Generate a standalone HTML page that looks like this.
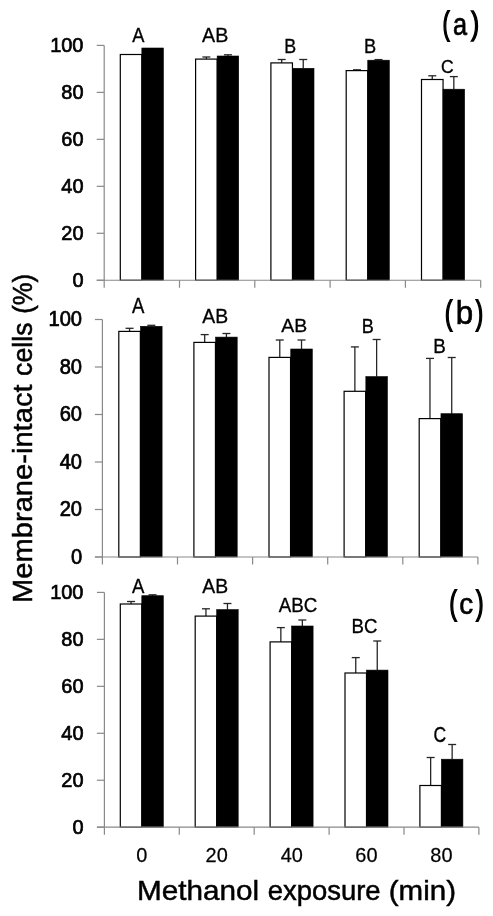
<!DOCTYPE html>
<html><head><meta charset="utf-8"><style>
html,body{margin:0;padding:0;background:#fff;width:493px;height:916px;overflow:hidden}
svg{display:block;filter:grayscale(1)}
text{font-family:"Liberation Sans",sans-serif;fill:#000;stroke:#000}
</style></head><body>
<svg width="493" height="916" viewBox="0 0 493 916">
<rect width="493" height="916" fill="#fff"/>
<rect x="120.30" y="54.50" width="21.55" height="225.75" fill="#fff" stroke="#000" stroke-width="1.2"/>
<rect x="141.85" y="48.00" width="21.55" height="232.25" fill="#000" stroke="#000" stroke-width="0.6"/>
<line x1="206.38" y1="59.10" x2="206.38" y2="57.00" stroke="#262626" stroke-width="1.3"/>
<line x1="202.38" y1="57.00" x2="210.38" y2="57.00" stroke="#262626" stroke-width="1.3"/>
<line x1="227.93" y1="56.00" x2="227.93" y2="54.80" stroke="#262626" stroke-width="1.3"/>
<line x1="223.93" y1="54.80" x2="231.93" y2="54.80" stroke="#262626" stroke-width="1.3"/>
<rect x="195.60" y="59.10" width="21.55" height="221.15" fill="#fff" stroke="#000" stroke-width="1.2"/>
<rect x="217.15" y="56.00" width="21.55" height="224.25" fill="#000" stroke="#000" stroke-width="0.6"/>
<line x1="281.68" y1="62.90" x2="281.68" y2="59.50" stroke="#262626" stroke-width="1.3"/>
<line x1="277.68" y1="59.50" x2="285.68" y2="59.50" stroke="#262626" stroke-width="1.3"/>
<line x1="303.23" y1="68.30" x2="303.23" y2="59.50" stroke="#262626" stroke-width="1.3"/>
<line x1="299.23" y1="59.50" x2="307.23" y2="59.50" stroke="#262626" stroke-width="1.3"/>
<rect x="270.90" y="62.90" width="21.55" height="217.35" fill="#fff" stroke="#000" stroke-width="1.2"/>
<rect x="292.45" y="68.30" width="21.55" height="211.95" fill="#000" stroke="#000" stroke-width="0.6"/>
<line x1="356.97" y1="70.60" x2="356.97" y2="69.80" stroke="#262626" stroke-width="1.3"/>
<line x1="352.97" y1="69.80" x2="360.97" y2="69.80" stroke="#262626" stroke-width="1.3"/>
<line x1="378.52" y1="60.20" x2="378.52" y2="59.60" stroke="#262626" stroke-width="1.3"/>
<line x1="374.52" y1="59.60" x2="382.52" y2="59.60" stroke="#262626" stroke-width="1.3"/>
<rect x="346.20" y="70.60" width="21.55" height="209.65" fill="#fff" stroke="#000" stroke-width="1.2"/>
<rect x="367.75" y="60.20" width="21.55" height="220.05" fill="#000" stroke="#000" stroke-width="0.6"/>
<line x1="432.27" y1="79.50" x2="432.27" y2="75.80" stroke="#262626" stroke-width="1.3"/>
<line x1="428.27" y1="75.80" x2="436.27" y2="75.80" stroke="#262626" stroke-width="1.3"/>
<line x1="453.82" y1="89.20" x2="453.82" y2="76.60" stroke="#262626" stroke-width="1.3"/>
<line x1="449.82" y1="76.60" x2="457.82" y2="76.60" stroke="#262626" stroke-width="1.3"/>
<rect x="421.50" y="79.50" width="21.55" height="200.75" fill="#fff" stroke="#000" stroke-width="1.2"/>
<rect x="443.05" y="89.20" width="21.55" height="191.05" fill="#000" stroke="#000" stroke-width="0.6"/>
<line x1="104.20" y1="45.40" x2="104.20" y2="280.25" stroke="#898989" stroke-width="1.2"/>
<line x1="96.70" y1="280.25" x2="480.70" y2="280.25" stroke="#898989" stroke-width="1.2"/>
<line x1="96.70" y1="280.25" x2="104.20" y2="280.25" stroke="#898989" stroke-width="1.2"/>
<line x1="104.20" y1="280.25" x2="104.20" y2="287.75" stroke="#898989" stroke-width="1.2"/>
<text transform="translate(72.38,286.78) scale(0.9500,1)" font-size="21.00" stroke-width="0.71">0</text>
<line x1="96.70" y1="233.28" x2="104.20" y2="233.28" stroke="#898989" stroke-width="1.2"/>
<line x1="179.50" y1="280.25" x2="179.50" y2="287.75" stroke="#898989" stroke-width="1.2"/>
<text transform="translate(61.29,239.81) scale(0.9500,1)" font-size="21.00" stroke-width="0.71">20</text>
<line x1="96.70" y1="186.31" x2="104.20" y2="186.31" stroke="#898989" stroke-width="1.2"/>
<line x1="254.80" y1="280.25" x2="254.80" y2="287.75" stroke="#898989" stroke-width="1.2"/>
<text transform="translate(61.29,192.84) scale(0.9500,1)" font-size="21.00" stroke-width="0.71">40</text>
<line x1="96.70" y1="139.34" x2="104.20" y2="139.34" stroke="#898989" stroke-width="1.2"/>
<line x1="330.10" y1="280.25" x2="330.10" y2="287.75" stroke="#898989" stroke-width="1.2"/>
<text transform="translate(61.29,145.87) scale(0.9500,1)" font-size="21.00" stroke-width="0.71">60</text>
<line x1="96.70" y1="92.37" x2="104.20" y2="92.37" stroke="#898989" stroke-width="1.2"/>
<line x1="405.40" y1="280.25" x2="405.40" y2="287.75" stroke="#898989" stroke-width="1.2"/>
<text transform="translate(61.29,98.90) scale(0.9500,1)" font-size="21.00" stroke-width="0.71">80</text>
<line x1="96.70" y1="45.40" x2="104.20" y2="45.40" stroke="#898989" stroke-width="1.2"/>
<line x1="480.70" y1="280.25" x2="480.70" y2="287.75" stroke="#898989" stroke-width="1.2"/>
<text transform="translate(50.19,51.93) scale(0.9500,1)" font-size="21.00" stroke-width="0.71">100</text>
<text transform="translate(132.31,41.95) scale(0.8658,1)" font-size="21.08" stroke-width="0.35">A</text>
<text transform="translate(202.11,41.95) scale(0.9781,1)" font-size="20.06" stroke-width="0.31">AB</text>
<text transform="translate(284.19,53.05) scale(0.8648,1)" font-size="20.64" stroke-width="0.35">B</text>
<text transform="translate(363.95,53.05) scale(0.8830,1)" font-size="20.64" stroke-width="0.34">B</text>
<text transform="translate(441.06,72.67) scale(0.9771,1)" font-size="17.94" stroke-width="0.31">C</text>
<text transform="translate(442.71,33.72) scale(0.6334,1)" font-size="31.56" stroke-width="1.89">(</text>
<text transform="translate(452.97,34.95) scale(0.8108,1)" font-size="31.21" stroke-width="0.74">a</text>
<text transform="translate(471.21,33.72) scale(0.7410,1)" font-size="31.56" stroke-width="1.62">)</text>
<line x1="129.58" y1="331.40" x2="129.58" y2="328.30" stroke="#262626" stroke-width="1.3"/>
<line x1="125.58" y1="328.30" x2="133.58" y2="328.30" stroke="#262626" stroke-width="1.3"/>
<line x1="151.32" y1="326.30" x2="151.32" y2="325.30" stroke="#262626" stroke-width="1.3"/>
<line x1="147.32" y1="325.30" x2="155.32" y2="325.30" stroke="#262626" stroke-width="1.3"/>
<rect x="118.80" y="331.40" width="21.55" height="225.60" fill="#fff" stroke="#000" stroke-width="1.2"/>
<rect x="140.55" y="326.30" width="21.55" height="230.70" fill="#000" stroke="#000" stroke-width="0.6"/>
<line x1="204.68" y1="342.40" x2="204.68" y2="334.60" stroke="#262626" stroke-width="1.3"/>
<line x1="200.68" y1="334.60" x2="208.68" y2="334.60" stroke="#262626" stroke-width="1.3"/>
<line x1="226.43" y1="337.10" x2="226.43" y2="333.50" stroke="#262626" stroke-width="1.3"/>
<line x1="222.43" y1="333.50" x2="230.43" y2="333.50" stroke="#262626" stroke-width="1.3"/>
<rect x="193.90" y="342.40" width="21.55" height="214.60" fill="#fff" stroke="#000" stroke-width="1.2"/>
<rect x="215.65" y="337.10" width="21.55" height="219.90" fill="#000" stroke="#000" stroke-width="0.6"/>
<line x1="279.77" y1="357.40" x2="279.77" y2="340.00" stroke="#262626" stroke-width="1.3"/>
<line x1="275.77" y1="340.00" x2="283.77" y2="340.00" stroke="#262626" stroke-width="1.3"/>
<line x1="301.52" y1="349.00" x2="301.52" y2="340.00" stroke="#262626" stroke-width="1.3"/>
<line x1="297.52" y1="340.00" x2="305.52" y2="340.00" stroke="#262626" stroke-width="1.3"/>
<rect x="269.00" y="357.40" width="21.55" height="199.60" fill="#fff" stroke="#000" stroke-width="1.2"/>
<rect x="290.75" y="349.00" width="21.55" height="208.00" fill="#000" stroke="#000" stroke-width="0.6"/>
<line x1="354.87" y1="391.30" x2="354.87" y2="346.90" stroke="#262626" stroke-width="1.3"/>
<line x1="350.87" y1="346.90" x2="358.87" y2="346.90" stroke="#262626" stroke-width="1.3"/>
<line x1="376.62" y1="376.60" x2="376.62" y2="339.50" stroke="#262626" stroke-width="1.3"/>
<line x1="372.62" y1="339.50" x2="380.62" y2="339.50" stroke="#262626" stroke-width="1.3"/>
<rect x="344.10" y="391.30" width="21.55" height="165.70" fill="#fff" stroke="#000" stroke-width="1.2"/>
<rect x="365.85" y="376.60" width="21.55" height="180.40" fill="#000" stroke="#000" stroke-width="0.6"/>
<line x1="429.97" y1="418.60" x2="429.97" y2="358.40" stroke="#262626" stroke-width="1.3"/>
<line x1="425.97" y1="358.40" x2="433.97" y2="358.40" stroke="#262626" stroke-width="1.3"/>
<line x1="451.72" y1="413.70" x2="451.72" y2="357.50" stroke="#262626" stroke-width="1.3"/>
<line x1="447.72" y1="357.50" x2="455.72" y2="357.50" stroke="#262626" stroke-width="1.3"/>
<rect x="419.20" y="418.60" width="21.55" height="138.40" fill="#fff" stroke="#000" stroke-width="1.2"/>
<rect x="440.95" y="413.70" width="21.55" height="143.30" fill="#000" stroke="#000" stroke-width="0.6"/>
<line x1="102.40" y1="319.50" x2="102.40" y2="557.00" stroke="#898989" stroke-width="1.2"/>
<line x1="94.90" y1="557.00" x2="477.90" y2="557.00" stroke="#898989" stroke-width="1.2"/>
<line x1="94.90" y1="557.00" x2="102.40" y2="557.00" stroke="#898989" stroke-width="1.2"/>
<line x1="102.40" y1="557.00" x2="102.40" y2="564.50" stroke="#898989" stroke-width="1.2"/>
<text transform="translate(70.89,563.60) scale(0.9500,1)" font-size="21.20" stroke-width="0.72">0</text>
<line x1="94.90" y1="509.50" x2="102.40" y2="509.50" stroke="#898989" stroke-width="1.2"/>
<line x1="177.50" y1="557.00" x2="177.50" y2="564.50" stroke="#898989" stroke-width="1.2"/>
<text transform="translate(59.68,516.10) scale(0.9500,1)" font-size="21.20" stroke-width="0.72">20</text>
<line x1="94.90" y1="462.00" x2="102.40" y2="462.00" stroke="#898989" stroke-width="1.2"/>
<line x1="252.60" y1="557.00" x2="252.60" y2="564.50" stroke="#898989" stroke-width="1.2"/>
<text transform="translate(59.68,468.60) scale(0.9500,1)" font-size="21.20" stroke-width="0.72">40</text>
<line x1="94.90" y1="414.50" x2="102.40" y2="414.50" stroke="#898989" stroke-width="1.2"/>
<line x1="327.70" y1="557.00" x2="327.70" y2="564.50" stroke="#898989" stroke-width="1.2"/>
<text transform="translate(59.68,421.10) scale(0.9500,1)" font-size="21.20" stroke-width="0.72">60</text>
<line x1="94.90" y1="367.00" x2="102.40" y2="367.00" stroke="#898989" stroke-width="1.2"/>
<line x1="402.80" y1="557.00" x2="402.80" y2="564.50" stroke="#898989" stroke-width="1.2"/>
<text transform="translate(59.68,373.60) scale(0.9500,1)" font-size="21.20" stroke-width="0.72">80</text>
<line x1="94.90" y1="319.50" x2="102.40" y2="319.50" stroke="#898989" stroke-width="1.2"/>
<line x1="477.90" y1="557.00" x2="477.90" y2="564.50" stroke="#898989" stroke-width="1.2"/>
<text transform="translate(48.48,326.10) scale(0.9500,1)" font-size="21.20" stroke-width="0.72">100</text>
<text transform="translate(132.11,313.15) scale(0.8682,1)" font-size="21.37" stroke-width="0.35">A</text>
<text transform="translate(202.21,322.95) scale(0.9595,1)" font-size="20.20" stroke-width="0.31">AB</text>
<text transform="translate(281.31,332.35) scale(1.0222,1)" font-size="19.04" stroke-width="0.29">AB</text>
<text transform="translate(361.67,333.15) scale(0.8558,1)" font-size="21.08" stroke-width="0.35">B</text>
<text transform="translate(433.31,353.05) scale(0.9505,1)" font-size="19.77" stroke-width="0.32">B</text>
<text transform="translate(445.12,323.92) scale(0.6610,1)" font-size="32.52" stroke-width="1.82">(</text>
<text transform="translate(455.63,324.43) scale(0.9634,1)" font-size="32.54" stroke-width="0.62">b</text>
<text transform="translate(476.03,323.92) scale(0.6494,1)" font-size="32.52" stroke-width="1.85">)</text>
<line x1="131.05" y1="604.00" x2="131.05" y2="601.50" stroke="#262626" stroke-width="1.3"/>
<line x1="127.05" y1="601.50" x2="135.05" y2="601.50" stroke="#262626" stroke-width="1.3"/>
<line x1="152.55" y1="595.70" x2="152.55" y2="594.80" stroke="#262626" stroke-width="1.3"/>
<line x1="148.55" y1="594.80" x2="156.55" y2="594.80" stroke="#262626" stroke-width="1.3"/>
<rect x="120.30" y="604.00" width="21.50" height="223.20" fill="#fff" stroke="#000" stroke-width="1.2"/>
<rect x="141.80" y="595.70" width="21.50" height="231.50" fill="#000" stroke="#000" stroke-width="0.6"/>
<line x1="205.95" y1="616.10" x2="205.95" y2="608.80" stroke="#262626" stroke-width="1.3"/>
<line x1="201.95" y1="608.80" x2="209.95" y2="608.80" stroke="#262626" stroke-width="1.3"/>
<line x1="227.45" y1="609.60" x2="227.45" y2="603.50" stroke="#262626" stroke-width="1.3"/>
<line x1="223.45" y1="603.50" x2="231.45" y2="603.50" stroke="#262626" stroke-width="1.3"/>
<rect x="195.20" y="616.10" width="21.50" height="211.10" fill="#fff" stroke="#000" stroke-width="1.2"/>
<rect x="216.70" y="609.60" width="21.50" height="217.60" fill="#000" stroke="#000" stroke-width="0.6"/>
<line x1="280.85" y1="641.90" x2="280.85" y2="627.60" stroke="#262626" stroke-width="1.3"/>
<line x1="276.85" y1="627.60" x2="284.85" y2="627.60" stroke="#262626" stroke-width="1.3"/>
<line x1="302.35" y1="626.00" x2="302.35" y2="620.00" stroke="#262626" stroke-width="1.3"/>
<line x1="298.35" y1="620.00" x2="306.35" y2="620.00" stroke="#262626" stroke-width="1.3"/>
<rect x="270.10" y="641.90" width="21.50" height="185.30" fill="#fff" stroke="#000" stroke-width="1.2"/>
<rect x="291.60" y="626.00" width="21.50" height="201.20" fill="#000" stroke="#000" stroke-width="0.6"/>
<line x1="355.75" y1="673.00" x2="355.75" y2="657.60" stroke="#262626" stroke-width="1.3"/>
<line x1="351.75" y1="657.60" x2="359.75" y2="657.60" stroke="#262626" stroke-width="1.3"/>
<line x1="377.25" y1="670.10" x2="377.25" y2="641.00" stroke="#262626" stroke-width="1.3"/>
<line x1="373.25" y1="641.00" x2="381.25" y2="641.00" stroke="#262626" stroke-width="1.3"/>
<rect x="345.00" y="673.00" width="21.50" height="154.20" fill="#fff" stroke="#000" stroke-width="1.2"/>
<rect x="366.50" y="670.10" width="21.50" height="157.10" fill="#000" stroke="#000" stroke-width="0.6"/>
<line x1="430.65" y1="785.50" x2="430.65" y2="757.50" stroke="#262626" stroke-width="1.3"/>
<line x1="426.65" y1="757.50" x2="434.65" y2="757.50" stroke="#262626" stroke-width="1.3"/>
<line x1="452.15" y1="759.20" x2="452.15" y2="744.50" stroke="#262626" stroke-width="1.3"/>
<line x1="448.15" y1="744.50" x2="456.15" y2="744.50" stroke="#262626" stroke-width="1.3"/>
<rect x="419.90" y="785.50" width="21.50" height="41.70" fill="#fff" stroke="#000" stroke-width="1.2"/>
<rect x="441.40" y="759.20" width="21.50" height="68.00" fill="#000" stroke="#000" stroke-width="0.6"/>
<line x1="104.40" y1="592.40" x2="104.40" y2="827.20" stroke="#898989" stroke-width="1.2"/>
<line x1="96.90" y1="827.20" x2="478.90" y2="827.20" stroke="#898989" stroke-width="1.2"/>
<line x1="96.90" y1="827.20" x2="104.40" y2="827.20" stroke="#898989" stroke-width="1.2"/>
<line x1="104.40" y1="827.20" x2="104.40" y2="834.70" stroke="#898989" stroke-width="1.2"/>
<text transform="translate(72.38,833.73) scale(0.9500,1)" font-size="21.00" stroke-width="0.71">0</text>
<line x1="96.90" y1="780.24" x2="104.40" y2="780.24" stroke="#898989" stroke-width="1.2"/>
<line x1="179.30" y1="827.20" x2="179.30" y2="834.70" stroke="#898989" stroke-width="1.2"/>
<text transform="translate(61.29,786.77) scale(0.9500,1)" font-size="21.00" stroke-width="0.71">20</text>
<line x1="96.90" y1="733.28" x2="104.40" y2="733.28" stroke="#898989" stroke-width="1.2"/>
<line x1="254.20" y1="827.20" x2="254.20" y2="834.70" stroke="#898989" stroke-width="1.2"/>
<text transform="translate(61.29,739.81) scale(0.9500,1)" font-size="21.00" stroke-width="0.71">40</text>
<line x1="96.90" y1="686.32" x2="104.40" y2="686.32" stroke="#898989" stroke-width="1.2"/>
<line x1="329.10" y1="827.20" x2="329.10" y2="834.70" stroke="#898989" stroke-width="1.2"/>
<text transform="translate(61.29,692.85) scale(0.9500,1)" font-size="21.00" stroke-width="0.71">60</text>
<line x1="96.90" y1="639.36" x2="104.40" y2="639.36" stroke="#898989" stroke-width="1.2"/>
<line x1="404.00" y1="827.20" x2="404.00" y2="834.70" stroke="#898989" stroke-width="1.2"/>
<text transform="translate(61.29,645.89) scale(0.9500,1)" font-size="21.00" stroke-width="0.71">80</text>
<line x1="96.90" y1="592.40" x2="104.40" y2="592.40" stroke="#898989" stroke-width="1.2"/>
<line x1="478.90" y1="827.20" x2="478.90" y2="834.70" stroke="#898989" stroke-width="1.2"/>
<text transform="translate(50.19,598.93) scale(0.9500,1)" font-size="21.00" stroke-width="0.71">100</text>
<text transform="translate(132.11,592.55) scale(0.8801,1)" font-size="21.08" stroke-width="0.34">A</text>
<text transform="translate(202.21,593.05) scale(0.9595,1)" font-size="20.20" stroke-width="0.31">AB</text>
<text transform="translate(278.81,612.16) scale(0.9550,1)" font-size="19.63" stroke-width="0.31">ABC</text>
<text transform="translate(351.52,632.75) scale(0.8957,1)" font-size="20.76" stroke-width="0.33">BC</text>
<text transform="translate(433.46,742.44) scale(0.8218,1)" font-size="21.33" stroke-width="0.37">C</text>
<text transform="translate(449.52,613.52) scale(0.6610,1)" font-size="32.52" stroke-width="1.82">(</text>
<text transform="translate(459.27,614.06) scale(0.9412,1)" font-size="29.57" stroke-width="0.64">c</text>
<text transform="translate(476.22,613.52) scale(0.6610,1)" font-size="32.52" stroke-width="1.82">)</text>
<text transform="translate(136.30,862.30) scale(0.9500,1)" font-size="21.00" stroke-width="0.25">0</text>
<text transform="translate(205.54,862.30) scale(0.9500,1)" font-size="21.00" stroke-width="0.25">20</text>
<text transform="translate(280.72,862.30) scale(0.9500,1)" font-size="21.00" stroke-width="0.25">40</text>
<text transform="translate(355.34,862.30) scale(0.9500,1)" font-size="21.00" stroke-width="0.25">60</text>
<text transform="translate(430.31,862.30) scale(0.9500,1)" font-size="21.00" stroke-width="0.25">80</text>
<text transform="translate(137.01,900.19) scale(1.0569,1)" font-size="28.11" stroke-width="0.47">Methanol</text>
<text transform="translate(267.78,900.19) scale(0.9762,1)" font-size="28.11" stroke-width="0.51">exposure</text>
<text transform="translate(388.72,900.19) scale(1.0507,1)" font-size="28.11" stroke-width="0.48">(min)</text>
<g transform="rotate(-90)">
<text transform="translate(-602.94,31.69) scale(1.0365,1)" font-size="28.11" stroke-width="0.48">Membrane-intact</text>
<text transform="translate(-375.88,31.69) scale(0.9495,1)" font-size="28.11" stroke-width="0.53">cells</text>
<text transform="translate(-313.84,31.69) scale(0.9122,1)" font-size="28.11" stroke-width="0.55">(%)</text>
</g>
</svg>
</body></html>
